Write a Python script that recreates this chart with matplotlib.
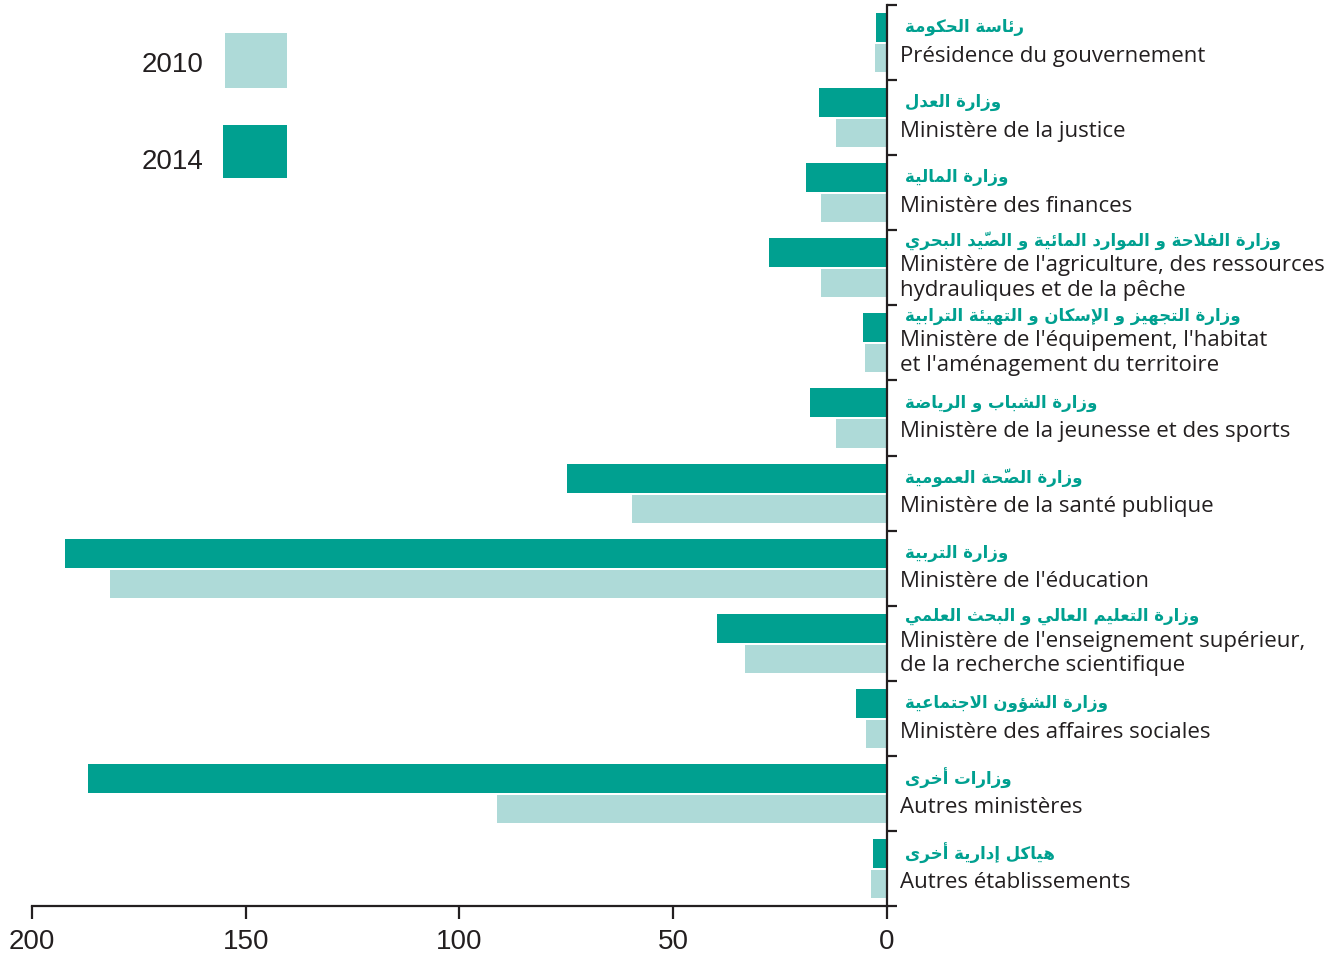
import unicodedata
import numpy as np
import matplotlib
matplotlib.use("Agg")
import matplotlib.pyplot as plt
from matplotlib.patches import Rectangle

# ---------------- data ----------------
labels_ar = [
    "رئاسة الحكومة",
    "وزارة العدل",
    "وزارة المالية",
    "وزارة الفلاحة و الموارد المائية و الصّيد البحري",
    "وزارة التجهيز و الإسكان و التهيئة الترابية",
    "وزارة الشباب و الرياضة",
    "وزارة الصّحة العمومية",
    "وزارة التربية",
    "وزارة التعليم العالي و البحث العلمي",
    "وزارة الشؤون الاجتماعية",
    "وزارات أخرى",
    "هياكل إدارية أخرى",
]
labels_fr = [
    "Présidence du gouvernement",
    "Ministère de la justice",
    "Ministère des finances",
    "Ministère de l'agriculture, des ressources\nhydrauliques et de la pêche",
    "Ministère de l'équipement, l'habitat\net l'aménagement du territoire",
    "Ministère de la jeunesse et des sports",
    "Ministère de la santé publique",
    "Ministère de l'éducation",
    "Ministère de l'enseignement supérieur,\nde la recherche scientifique",
    "Ministère des affaires sociales",
    "Autres ministères",
    "Autres établissements",
]
values_2014 = [2.6, 15.9, 19.0, 27.6, 5.6, 18.0, 74.9, 192.3, 39.8, 7.3, 186.9, 3.3]
values_2010 = [2.8, 11.9, 15.4, 15.4, 5.1, 11.9, 59.6, 181.8, 33.2, 4.9, 91.2, 3.7]
series_names = ["2010", "2014"]
xticks = [200, 150, 100, 50, 0]

COL_2014 = "#00a090"
COL_2010 = "#aedad8"
INK = "#231f20"

# ------------- minimal Arabic shaping -------------
DUAL = set("بتثجحخسشصضطظعغفقكلمنهيئـ")
RIGHT = set("اأإآدذرزوؤةى")
LAM_ALEF = {
    "ا": "ARABIC LIGATURE LAM WITH ALEF",
    "أ": "ARABIC LIGATURE LAM WITH ALEF WITH HAMZA ABOVE",
    "إ": "ARABIC LIGATURE LAM WITH ALEF WITH HAMZA BELOW",
    "آ": "ARABIC LIGATURE LAM WITH ALEF WITH MADDA ABOVE",
}


def _jt(b):
    if b.startswith("LA") and len(b) == 3:
        return "R"
    if b in DUAL:
        return "D"
    if b in RIGHT:
        return "R"
    return "U"


def _glyph(b, form):
    if b.startswith("LA") and len(b) == 3:
        f = "FINAL" if form in ("FINAL", "MEDIAL") else "ISOLATED"
        return unicodedata.lookup(f"{LAM_ALEF[b[2]]} {f} FORM")
    if _jt(b) == "U":
        return b
    try:
        return unicodedata.lookup(f"{unicodedata.name(b)} {form} FORM")
    except KeyError:
        if form == "MEDIAL":
            return _glyph(b, "FINAL")
        if form == "INITIAL":
            return _glyph(b, "ISOLATED")
        return b


def shape_ar(text):
    clusters = []
    for c in text:
        if unicodedata.category(c) == "Mn" and clusters:
            clusters[-1][1].append(c)
        else:
            clusters.append([c, []])
    merged = []
    i = 0
    while i < len(clusters):
        b, m = clusters[i]
        if b == "ل" and i + 1 < len(clusters) and clusters[i + 1][0] in LAM_ALEF:
            merged.append(["LA" + clusters[i + 1][0], m + clusters[i + 1][1]])
            i += 2
        else:
            merged.append([b, m])
            i += 1
    out = []
    for k, (b, m) in enumerate(merged):
        t = _jt(b)
        pt = _jt(merged[k - 1][0]) if k > 0 else "U"
        nt = _jt(merged[k + 1][0]) if k + 1 < len(merged) else "U"
        cp = t in "DR" and pt == "D"
        cn = t == "D" and nt in "DR"
        form = "MEDIAL" if (cp and cn) else "FINAL" if cp else "INITIAL" if cn else "ISOLATED"
        # marks first: in visual LTR order the (RTL-designed) mark overlays the glyph after it
        out.append("".join(m) + _glyph(b, form))
    return "".join(reversed(out))


# ---------------- figure ----------------
W, H, DPI = 1344, 960, 100
fig = plt.figure(figsize=(W / DPI, H / DPI), dpi=DPI)
ax = fig.add_axes([32 / W, 1 - 906 / H, 855 / W, 901 / H])

y = np.arange(len(labels_fr))
ax.barh(y - 0.2, values_2014, height=0.386, color=COL_2014, linewidth=0)
ax.barh(y + 0.207, values_2010, height=0.373, color=COL_2010, linewidth=0)

ax.set_xlim(200, 0)
ax.set_ylim(len(y) - 0.5, -0.5)

for s in ("left", "top"):
    ax.spines[s].set_visible(False)
for s in ("right", "bottom"):
    ax.spines[s].set_linewidth(1.6)
    ax.spines[s].set_color(INK)

ax.set_xticks(xticks)
ax.set_xticklabels([str(v) for v in xticks], fontsize=20, family="Liberation Sans", color=INK)
ax.tick_params(axis="x", direction="out", length=9, width=1.6, color=INK, pad=7.5)

ax.yaxis.set_ticks_position("right")
ax.set_yticks(np.arange(len(y) + 1) - 0.5)
ax.set_yticklabels([])
ax.tick_params(axis="y", direction="out", length=7, width=1.6, color=INK)

two_line = ["\n" in s for s in labels_fr]
for i, (ar, fr) in enumerate(zip(labels_ar, labels_fr)):
    ar_dy = -7.5 if two_line[i] else -16.0
    fr_dy = -34.5 if two_line[i] else -37.0
    ax.annotate(shape_ar(ar), xy=(0, i - 0.5), xytext=(13, ar_dy), textcoords="offset points",
                ha="left", va="center", fontsize=12, fontweight="bold",
                family=["DejaVu Sans"], color=COL_2014, annotation_clip=False)
    ax.annotate(fr, xy=(0, i - 0.5), xytext=(9, fr_dy), textcoords="offset points",
                ha="left", va="center", fontsize=16, family="Open Sans", color=INK,
                linespacing=1.22, annotation_clip=False)

# legend (drawn in figure pixels)
def frect(x0, y0, x1, y1, color):
    fig.add_artist(Rectangle((x0 / W, 1 - y1 / H), (x1 - x0) / W, (y1 - y0) / H,
                             transform=fig.transFigure, color=color, linewidth=0))

frect(225, 33, 287, 88, COL_2010)
frect(223, 125, 287, 178, COL_2014)
fig.text(204 / W, 1 - 65 / H, series_names[0], ha="right", va="center", fontsize=20,
         family="Liberation Sans", color=INK)
fig.text(204 / W, 1 - 162 / H, series_names[1], ha="right", va="center", fontsize=20,
         family="Liberation Sans", color=INK)

fig.savefig("out.png", dpi=DPI)
